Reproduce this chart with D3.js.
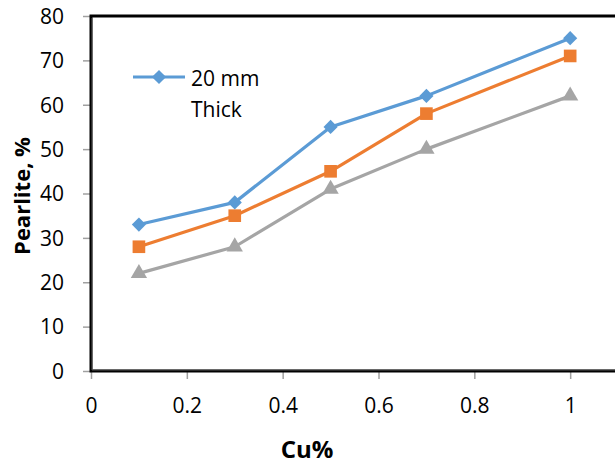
<!DOCTYPE html>
<html><head><meta charset="utf-8">
<script src="https://cdn.jsdelivr.net/npm/d3@7/dist/d3.min.js"></script>
<style>body{margin:0;background:#fff}svg{display:block}text{font-family:"Open Sans",sans-serif;fill:#000}</style>
</head><body><svg id="c" width="615" height="464"></svg>
<script>
const cuPercent = [0.1, 0.3, 0.5, 0.7, 1.0];
const thick20mm = [33, 38, 55, 62, 75];
const seriesOrange = [28, 35, 45, 58, 71];
const seriesGray = [22, 28, 41, 50, 62];
const xTicks = [0, 0.2, 0.4, 0.6, 0.8, 1];
const yTicks = [0, 10, 20, 30, 40, 50, 60, 70, 80];
const legendLines = ["20 mm", "Thick"];

const svg = d3.select("#c");
const x = d3.scaleLinear().domain([0, 1.2]).range([91, 666]);
const y = d3.scaleLinear().domain([0, 80]).range([371, 16]);

const diamond = {draw(ctx, size) { const r = Math.sqrt(size / 2); ctx.moveTo(0, -r); ctx.lineTo(r, 0); ctx.lineTo(0, r); ctx.lineTo(-r, 0); ctx.closePath(); }};

// axes (gray ticks)
const yAxis = d3.axisLeft(y).tickValues(yTicks).tickSize(8).tickFormat(d3.format("d"));
const gy = svg.append("g").attr("transform", `translate(${x(0)},0)`).call(yAxis);
gy.select(".domain").remove();
gy.selectAll(".tick line").attr("stroke", "#a0a0a0").attr("stroke-width", 1.5);
gy.selectAll(".tick text").attr("x", -27).attr("font-size", 21).attr("dy", "0.35em");

const xAxis = d3.axisBottom(x).tickValues(xTicks).tickSize(8).tickFormat(d => d3.format("")(+d.toFixed(1)));
const gx = svg.append("g").attr("transform", `translate(0,${y(0)})`).call(xAxis);
gx.select(".domain").remove();
gx.selectAll(".tick line").attr("stroke", "#a0a0a0").attr("stroke-width", 1.5);
gx.selectAll(".tick text").attr("y", 27).attr("font-size", 21).attr("dy", "0.71em");

// frame
svg.append("rect").attr("x", x(0)).attr("y", y(80))
  .attr("width", x(1.2) - x(0)).attr("height", y(0) - y(80))
  .attr("fill", "none").attr("stroke", "#000").attr("stroke-width", 3);
svg.append("line").attr("x1", x(0)+1).attr("x2", x(0)+1).attr("y1", y(80)+2).attr("y2", y(0)-1)
  .attr("stroke", "#555").attr("stroke-width", 1);
svg.append("line").attr("x1", x(0)+1).attr("x2", x(1.2)).attr("y1", y(0)-1).attr("y2", y(0)-1)
  .attr("stroke", "#555").attr("stroke-width", 1);

const series = [
  {vals: seriesGray, color: "#A5A5A5", sym: d3.symbolTriangle, size: 115},
  {vals: seriesOrange, color: "#ED7D31", sym: d3.symbolSquare, size: 160},
  {vals: thick20mm, color: "#5B9BD5", sym: diamond, size: 100},
];
const line = d3.line().x((d, i) => x(cuPercent[i])).y(d => y(d));
series.forEach(s => {
  svg.append("path").attr("d", line(s.vals)).attr("fill", "none")
    .attr("stroke", s.color).attr("stroke-width", 3.2).attr("stroke-linejoin", "round");
  svg.selectAll(null).data(s.vals).enter().append("path")
    .attr("d", d3.symbol().type(s.sym).size(s.size))
    .attr("transform", (d, i) => `translate(${x(cuPercent[i])},${y(d)})`)
    .attr("fill", s.color);
});

// legend
svg.append("line").attr("x1", 133).attr("x2", 185).attr("y1", 77).attr("y2", 77)
  .attr("stroke", "#5B9BD5").attr("stroke-width", 3.2);
svg.append("path").attr("d", d3.symbol().type(diamond).size(100)())
  .attr("transform", "translate(159,77)").attr("fill", "#5B9BD5");
svg.selectAll(null).data(legendLines).enter().append("text")
  .attr("x", 191).attr("y", (d, i) => 86 + i * 31).attr("font-size", 21).text(d => d);

// axis titles
svg.append("text").attr("transform", "translate(30,196) rotate(-90)")
  .attr("text-anchor", "middle").attr("font-size", 22).attr("font-weight", "bold").text("Pearlite, %");
svg.append("text").attr("x", 307).attr("y", 458)
  .attr("text-anchor", "middle").attr("font-size", 24).attr("font-weight", "bold").text("Cu%");
</script></body></html>
